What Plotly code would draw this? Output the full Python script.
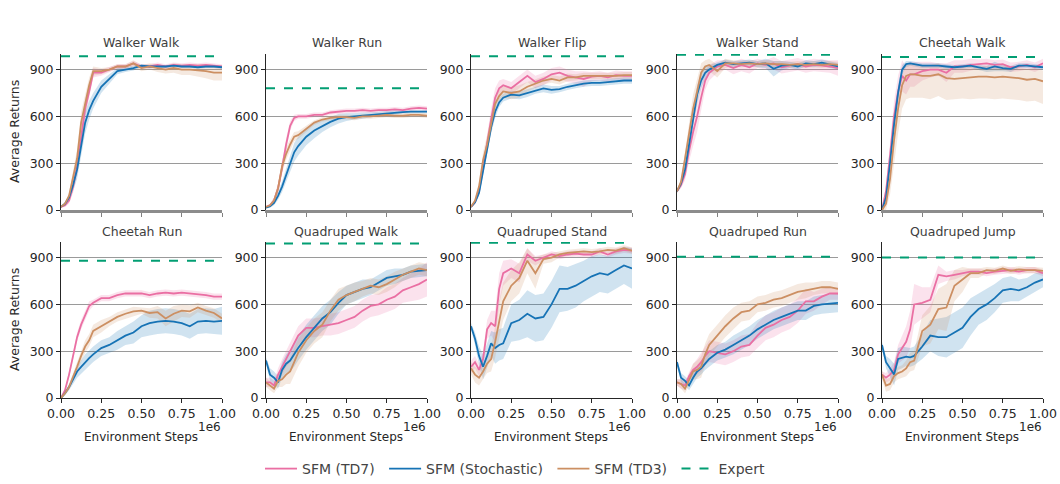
import plotly.graph_objects as go

W, H = 1060, 484

steps = [0, 0.025, 0.05, 0.075, 0.1, 0.125, 0.15, 0.175, 0.2, 0.25, 0.3, 0.35, 0.4,
         0.45, 0.5, 0.55, 0.6, 0.65, 0.7, 0.75, 0.8, 0.85, 0.9, 0.95, 1.0]

tasks = ["Walker Walk", "Walker Run", "Walker Flip", "Walker Stand", "Cheetah Walk",
         "Cheetah Run", "Quadruped Walk", "Quadruped Stand", "Quadruped Run", "Quadruped Jump"]
expert = [985, 780, 985, 995, 980, 880, 990, 995, 905, 900]

series_names = ["SFM (TD7)", "SFM (Stochastic)", "SFM (TD3)"]
expert_name = "Expert"
series_colors = ["#ea6fa3", "#1673b5", "#cc8f62"]
series_fills = ["rgba(234,111,163,0.2)", "rgba(22,115,181,0.2)", "rgba(204,143,98,0.2)"]
expert_color = "#029e73"

# ---- Walker Walk
ww_td7 = [20, 30, 60, 150, 280, 470, 650, 760, 880, 880, 900, 920, 920, 940, 920, 920, 930, 920, 930, 925, 930, 925, 930, 925, 920]
ww_td7_bw = [5, 10, 20, 40, 60, 70, 60, 50, 30, 20, 15, 15, 15, 15, 15, 15, 15, 15, 15, 15, 15, 15, 15, 15, 15]
ww_sto = [20, 40, 80, 160, 260, 420, 560, 640, 700, 790, 840, 890, 900, 910, 925, 920, 920, 920, 925, 920, 920, 915, 920, 920, 915]
ww_sto_bw = [5, 10, 20, 40, 60, 70, 70, 60, 50, 40, 30, 20, 15, 15, 10, 10, 10, 10, 10, 10, 10, 10, 10, 10, 10]
ww_td3 = [20, 40, 90, 200, 330, 560, 680, 800, 890, 890, 900, 920, 920, 940, 910, 920, 910, 900, 910, 900, 900, 895, 890, 880, 880]
ww_td3_bw = [5, 10, 20, 40, 60, 70, 60, 50, 30, 20, 15, 15, 15, 20, 20, 20, 25, 25, 30, 35, 35, 40, 45, 50, 50]

# ---- Walker Run
wr_td7 = [20, 30, 60, 140, 270, 420, 540, 590, 600, 600, 610, 610, 625, 630, 635, 635, 640, 635, 640, 640, 645, 640, 650, 655, 650]
wr_td7_bw = [5, 10, 20, 30, 40, 40, 30, 20, 15, 15, 15, 15, 15, 15, 15, 15, 15, 15, 15, 15, 15, 15, 15, 15, 15]
wr_sto = [15, 25, 45, 90, 150, 220, 300, 370, 410, 470, 510, 540, 565, 585, 595, 600, 605, 610, 615, 620, 625, 628, 630, 630, 630]
wr_sto_bw = [5, 10, 15, 25, 35, 45, 55, 60, 60, 55, 50, 40, 35, 30, 25, 20, 20, 15, 15, 15, 15, 10, 10, 10, 10]
wr_td3 = [20, 30, 60, 140, 280, 360, 420, 470, 480, 520, 560, 580, 590, 595, 595, 590, 600, 600, 605, 610, 605, 605, 610, 610, 605]
wr_td3_bw = [5, 10, 20, 30, 40, 40, 35, 30, 25, 20, 15, 15, 15, 15, 15, 15, 15, 15, 15, 15, 15, 15, 15, 15, 15]

# ---- Walker Flip
wf_td7 = [20, 50, 120, 280, 420, 580, 720, 780, 800, 780, 820, 860, 820, 840, 870, 880, 860, 850, 840, 855, 860, 850, 865, 860, 860]
wf_td7_bw = [5, 10, 20, 40, 60, 70, 60, 50, 40, 40, 40, 40, 40, 40, 40, 40, 40, 40, 50, 30, 30, 30, 30, 30, 30]
wf_sto = [20, 50, 110, 250, 400, 530, 630, 690, 720, 740, 735, 750, 770, 780, 770, 775, 790, 800, 810, 815, 815, 820, 825, 830, 830]
wf_sto_bw = [5, 10, 20, 30, 40, 40, 40, 30, 25, 25, 25, 25, 25, 25, 25, 20, 20, 20, 20, 20, 20, 20, 20, 20, 20]
wf_td3 = [20, 60, 150, 320, 420, 560, 680, 730, 760, 750, 760, 790, 810, 830, 840, 830, 850, 850, 860, 860, 860, 860, 860, 865, 865]
wf_td3_bw = [5, 10, 30, 50, 60, 50, 40, 40, 40, 40, 40, 30, 30, 25, 25, 25, 25, 20, 20, 20, 20, 20, 20, 20, 20]

# ---- Walker Stand
ws_td7 = [120, 160, 230, 380, 500, 600, 720, 830, 880, 920, 930, 910, 930, 915, 940, 930, 940, 915, 925, 935, 920, 930, 925, 920, 910]
ws_td7_bw = [10, 20, 40, 70, 90, 100, 80, 60, 50, 40, 30, 40, 40, 40, 30, 30, 40, 40, 40, 40, 40, 40, 40, 40, 50]
ws_sto = [120, 170, 260, 430, 600, 740, 830, 880, 900, 930, 945, 935, 940, 945, 935, 940, 905, 925, 930, 920, 940, 935, 945, 930, 920]
ws_sto_bw = [10, 20, 30, 50, 60, 60, 50, 40, 30, 20, 20, 20, 20, 20, 20, 30, 50, 30, 20, 20, 20, 20, 20, 20, 20]
ws_td3 = [120, 180, 330, 500, 650, 760, 880, 920, 930, 890, 940, 940, 935, 940, 935, 940, 935, 935, 930, 935, 930, 935, 930, 935, 930]
ws_td3_bw = [10, 20, 40, 70, 90, 80, 60, 40, 40, 40, 30, 20, 20, 20, 20, 20, 20, 20, 20, 20, 20, 20, 20, 20, 20]

# ---- Cheetah Walk
cw_td7 = [0, 120, 350, 600, 760, 860, 830, 870, 870, 890, 900, 900, 880, 920, 920, 930, 935, 940, 930, 935, 915, 920, 930, 915, 940]
cw_td7_bw = [10, 40, 80, 100, 100, 100, 90, 80, 80, 60, 50, 40, 60, 40, 40, 40, 30, 30, 30, 30, 30, 30, 30, 30, 30]
cw_sto = [0, 80, 300, 550, 750, 900, 935, 940, 935, 925, 925, 925, 920, 915, 920, 925, 915, 905, 920, 910, 905, 925, 925, 920, 915]
cw_sto_bw = [10, 30, 50, 60, 50, 30, 20, 15, 15, 15, 15, 15, 15, 15, 15, 15, 15, 20, 30, 20, 20, 15, 15, 15, 15]
cw_td3 = [0, 40, 200, 450, 650, 800, 860, 870, 870, 860, 860, 870, 845, 840, 845, 850, 855, 855, 850, 855, 850, 845, 835, 840, 825]
cw_td3_bw_lo = [10, 40, 100, 150, 160, 150, 150, 150, 150, 140, 150, 140, 140, 130, 130, 140, 140, 140, 140, 140, 140, 140, 140, 140, 145]
cw_td3_bw_hi = [10, 30, 50, 60, 70, 70, 70, 70, 70, 70, 70, 70, 70, 70, 70, 70, 70, 70, 70, 70, 70, 70, 70, 70, 70]

# ---- Cheetah Run
cr_td7 = [0, 50, 150, 270, 390, 470, 530, 590, 610, 640, 640, 660, 670, 670, 670, 660, 670, 675, 670, 675, 670, 665, 660, 650, 650]
cr_td7_bw = [5, 10, 20, 30, 30, 30, 30, 30, 20, 20, 20, 20, 20, 20, 20, 20, 20, 20, 20, 20, 20, 20, 20, 20, 20]
cr_sto = [0, 30, 70, 120, 170, 200, 230, 255, 280, 320, 340, 370, 400, 420, 460, 480, 490, 495, 490, 480, 460, 490, 495, 490, 495]
cr_sto_bw = [5, 10, 20, 30, 40, 40, 50, 50, 50, 50, 50, 60, 60, 70, 70, 80, 80, 80, 80, 80, 80, 80, 80, 80, 90]
cr_td3 = [0, 30, 70, 130, 200, 270, 330, 370, 430, 460, 490, 520, 540, 555, 560, 545, 550, 510, 540, 560, 555, 580, 560, 545, 510]
cr_td3_bw = [5, 10, 20, 30, 40, 40, 40, 40, 40, 40, 30, 30, 30, 30, 20, 30, 40, 50, 50, 40, 40, 30, 30, 30, 30]

# ---- Quadruped Walk
qw_td7 = [100, 100, 80, 150, 200, 250, 290, 350, 400, 450, 450, 460, 470, 480, 500, 520, 560, 590, 600, 630, 650, 690, 710, 730, 760]
qw_td7_bw = [30, 30, 30, 40, 50, 50, 60, 60, 60, 60, 60, 60, 70, 70, 70, 70, 70, 70, 70, 80, 80, 80, 90, 100, 110]
qw_sto = [240, 150, 130, 100, 180, 220, 240, 280, 320, 390, 450, 510, 550, 610, 660, 680, 700, 710, 740, 770, 780, 790, 810, 815, 820]
qw_sto_bw = [20, 40, 40, 40, 50, 60, 70, 80, 80, 80, 80, 80, 80, 70, 60, 60, 60, 50, 50, 50, 50, 40, 40, 40, 40]
qw_td3 = [100, 80, 60, 110, 120, 150, 170, 230, 290, 370, 430, 470, 560, 630, 660, 680, 700, 720, 710, 730, 760, 790, 810, 830, 820]
qw_td3_bw = [30, 30, 30, 40, 50, 60, 80, 90, 90, 80, 80, 80, 70, 70, 60, 60, 50, 50, 50, 50, 50, 40, 40, 40, 40]

# ---- Quadruped Stand
qs_td7 = [200, 230, 180, 250, 440, 480, 460, 700, 800, 830, 800, 920, 880, 900, 920, 910, 920, 925, 920, 920, 940, 920, 940, 950, 945]
qs_td7_bw = [40, 40, 40, 50, 60, 80, 100, 100, 80, 60, 60, 40, 30, 20, 20, 20, 20, 20, 20, 20, 20, 20, 20, 20, 20]
qs_sto = [460, 380, 270, 200, 270, 350, 320, 340, 350, 480, 500, 540, 510, 520, 600, 700, 700, 720, 750, 780, 800, 790, 820, 850, 830]
qs_sto_bw = [20, 40, 60, 80, 80, 80, 100, 100, 100, 120, 130, 150, 150, 150, 150, 150, 140, 140, 130, 130, 120, 120, 120, 120, 130]
qs_td3 = [190, 150, 130, 170, 220, 250, 360, 500, 620, 720, 770, 880, 800, 890, 900, 920, 930, 935, 940, 935, 940, 950, 945, 960, 945]
qs_td3_bw = [40, 50, 50, 50, 60, 80, 100, 120, 120, 100, 100, 80, 100, 30, 30, 20, 20, 20, 20, 20, 20, 20, 20, 20, 20]

# ---- Quadruped Run
qr_td7 = [100, 90, 80, 140, 180, 200, 230, 270, 300, 290, 280, 300, 330, 340, 400, 450, 470, 500, 520, 560, 620, 620, 650, 670, 670]
qr_td7_bw = [20, 30, 30, 30, 40, 50, 60, 60, 70, 70, 70, 70, 70, 70, 80, 80, 80, 80, 80, 80, 80, 60, 50, 40, 40]
qr_sto = [230, 130, 110, 80, 130, 170, 190, 220, 250, 290, 310, 340, 370, 400, 440, 470, 500, 520, 540, 560, 560, 590, 600, 605, 610]
qr_sto_bw = [20, 30, 30, 30, 40, 40, 40, 40, 50, 50, 50, 60, 60, 60, 60, 60, 60, 60, 60, 60, 60, 60, 60, 60, 60]
qr_td3 = [100, 90, 60, 120, 170, 180, 200, 280, 340, 400, 460, 510, 550, 560, 600, 610, 630, 640, 660, 680, 690, 700, 710, 710, 700]
qr_td3_bw = [20, 30, 30, 40, 50, 60, 70, 70, 70, 70, 70, 70, 60, 60, 50, 50, 50, 50, 50, 50, 50, 40, 40, 40, 40]

# ---- Quadruped Jump
qj_td7 = [150, 130, 150, 180, 280, 320, 360, 440, 600, 610, 630, 790, 780, 790, 800, 810, 810, 800, 810, 815, 820, 810, 820, 820, 800]
qj_td7_bw = [20, 30, 40, 50, 60, 80, 100, 120, 130, 100, 80, 60, 30, 30, 20, 20, 20, 20, 20, 20, 20, 20, 20, 20, 20]
qj_sto = [340, 230, 190, 150, 250, 260, 265, 260, 270, 330, 400, 390, 390, 420, 450, 520, 570, 600, 640, 690, 700, 690, 710, 740, 760]
qj_sto_bw = [20, 40, 60, 70, 70, 70, 60, 60, 60, 80, 100, 120, 130, 130, 130, 120, 100, 100, 90, 80, 80, 70, 60, 60, 50]
qj_td3 = [150, 80, 90, 140, 160, 170, 190, 230, 240, 430, 470, 570, 580, 720, 760, 800, 800, 820, 815, 830, 815, 825, 820, 820, 815]
qj_td3_bw = [30, 40, 40, 40, 40, 40, 50, 60, 60, 100, 120, 130, 150, 100, 80, 30, 30, 20, 20, 20, 20, 20, 20, 20, 20]

panels = [
    [(ww_td7, ww_td7_bw, ww_td7_bw), (ww_sto, ww_sto_bw, ww_sto_bw), (ww_td3, ww_td3_bw, ww_td3_bw)],
    [(wr_td7, wr_td7_bw, wr_td7_bw), (wr_sto, wr_sto_bw, wr_sto_bw), (wr_td3, wr_td3_bw, wr_td3_bw)],
    [(wf_td7, wf_td7_bw, wf_td7_bw), (wf_sto, wf_sto_bw, wf_sto_bw), (wf_td3, wf_td3_bw, wf_td3_bw)],
    [(ws_td7, ws_td7_bw, ws_td7_bw), (ws_sto, ws_sto_bw, ws_sto_bw), (ws_td3, ws_td3_bw, ws_td3_bw)],
    [(cw_td7, cw_td7_bw, cw_td7_bw), (cw_sto, cw_sto_bw, cw_sto_bw), (cw_td3, cw_td3_bw_lo, cw_td3_bw_hi)],
    [(cr_td7, cr_td7_bw, cr_td7_bw), (cr_sto, cr_sto_bw, cr_sto_bw), (cr_td3, cr_td3_bw, cr_td3_bw)],
    [(qw_td7, qw_td7_bw, qw_td7_bw), (qw_sto, qw_sto_bw, qw_sto_bw), (qw_td3, qw_td3_bw, qw_td3_bw)],
    [(qs_td7, qs_td7_bw, qs_td7_bw), (qs_sto, qs_sto_bw, qs_sto_bw), (qs_td3, qs_td3_bw, qs_td3_bw)],
    [(qr_td7, qr_td7_bw, qr_td7_bw), (qr_sto, qr_sto_bw, qr_sto_bw), (qr_td3, qr_td3_bw, qr_td3_bw)],
    [(qj_td7, qj_td7_bw, qj_td7_bw), (qj_sto, qj_sto_bw, qj_sto_bw), (qj_td3, qj_td3_bw, qj_td3_bw)],
]

x_ticks = [0, 0.25, 0.5, 0.75, 1.0]
x_tick_text = ["0.00", "0.25", "0.50", "0.75", "1.00"]
y_ticks = [0, 300, 600, 900]

# ---- layout geometry (pixels)
col_left = [61, 266, 471, 677, 882]
col_w = 161
row_top = [54, 242]
row_h = 156

NBSP = "\u00a0"  # small trailing pad to widen legend entry spacing

FONT = "DejaVu Sans"
fig = go.Figure()
layout = dict(
    width=W, height=H, margin=dict(l=0, r=0, t=0, b=0, autoexpand=False),
    paper_bgcolor="white", plot_bgcolor="white",
    font=dict(family=FONT, color="#262626"),
    showlegend=True,
    legend=dict(orientation="h", x=515 / W, xanchor="center", y=1 - 469 / H, yanchor="middle",
                font=dict(size=14, color="#444444"), itemwidth=32,
                traceorder="normal", bgcolor="rgba(0,0,0,0)"),
)
annotations = []

for k in range(10):
    r, c = divmod(k, 5)
    ax = k + 1
    xa = "x" if ax == 1 else f"x{ax}"
    ya = "y" if ax == 1 else f"y{ax}"
    x0 = col_left[c] / W
    x1 = (col_left[c] + col_w) / W
    y1 = 1 - row_top[r] / H
    y0 = 1 - (row_top[r] + row_h) / H
    bottom = r == 1
    layout["xaxis" if ax == 1 else f"xaxis{ax}"] = dict(
        domain=[x0, x1], anchor=ya, range=[0, 1.0], tickvals=x_ticks, ticktext=x_tick_text,
        showticklabels=bottom, ticks="outside", ticklen=4,
        tickcolor="#262626" if bottom else "#808080",
        showgrid=False, zeroline=False, showline=True, automargin=False,
        linecolor="#262626" if bottom else "#8c8c8c", linewidth=1 if bottom else 3,
        tickfont=dict(size=12.5, color="#262626"), fixedrange=True,
    )
    layout["yaxis" if ax == 1 else f"yaxis{ax}"] = dict(
        domain=[y0, y1], anchor=xa, range=[0, 1000], tickvals=y_ticks,
        ticks="outside", ticklen=4, tickcolor="#262626", automargin=False,
        showgrid=True, gridcolor="#9a9a9a", gridwidth=1, zeroline=False,
        showline=True, linecolor="#262626", linewidth=1,
        tickfont=dict(size=12.5, color="#262626"), fixedrange=True,
    )
    # title
    annotations.append(dict(text=tasks[k], xref="paper", yref="paper",
                            x=(col_left[c] + col_w / 2) / W,
                            y=1 - (row_top[r] - 11) / H, xanchor="center", yanchor="middle",
                            showarrow=False, font=dict(size=12.5, color="#404040")))
    if bottom:
        annotations.append(dict(text="Environment Steps", xref="paper", yref="paper",
                                x=(col_left[c] + col_w / 2 - 1) / W, y=1 - 437 / H,
                                xanchor="center", yanchor="middle", showarrow=False,
                                font=dict(size=12, color="#262626")))
        annotations.append(dict(text="1e6", xref="paper", yref="paper",
                                x=(col_left[c] + col_w + 1) / W, y=1 - 427 / H,
                                xanchor="right", yanchor="middle", showarrow=False,
                                font=dict(size=12, color="#262626")))
    if c == 0:
        annotations.append(dict(text="Average Returns", xref="paper", yref="paper",
                                x=14 / W, y=1 - (row_top[r] + row_h / 2) / H,
                                xanchor="center", yanchor="middle", textangle=-90,
                                showarrow=False, font=dict(size=12.5, color="#262626")))

    # bands
    for s, (mean, lo, hi) in enumerate(panels[k]):
        upper = [m + h for m, h in zip(mean, hi)]
        lower = [m - l for m, l in zip(mean, lo)]
        fig.add_trace(go.Scatter(x=steps + steps[::-1], y=upper + lower[::-1], fill="toself",
                                 fillcolor=series_fills[s], line=dict(width=0),
                                 mode="lines", hoverinfo="skip", showlegend=False,
                                 xaxis=xa, yaxis=ya))
    for s, (mean, lo, hi) in enumerate(panels[k]):
        fig.add_trace(go.Scatter(x=steps, y=mean, mode="lines",
                                 line=dict(color=series_colors[s], width=1.8),
                                 name=series_names[s] + NBSP, legendgroup=series_names[s],
                                 showlegend=(k == 0), xaxis=xa, yaxis=ya))
    fig.add_trace(go.Scatter(x=[0, 1.0], y=[expert[k], expert[k]], mode="lines",
                             line=dict(color=expert_color, width=2, dash="dash"),
                             name=expert_name, legendgroup=expert_name, showlegend=(k == 0),
                             xaxis=xa, yaxis=ya))

layout["annotations"] = annotations
fig.update_layout(**layout)
fig.write_html("out.html", config={"displayModeBar": False},
               post_script="document.body.style.margin='0';document.body.style.overflow='hidden';")
